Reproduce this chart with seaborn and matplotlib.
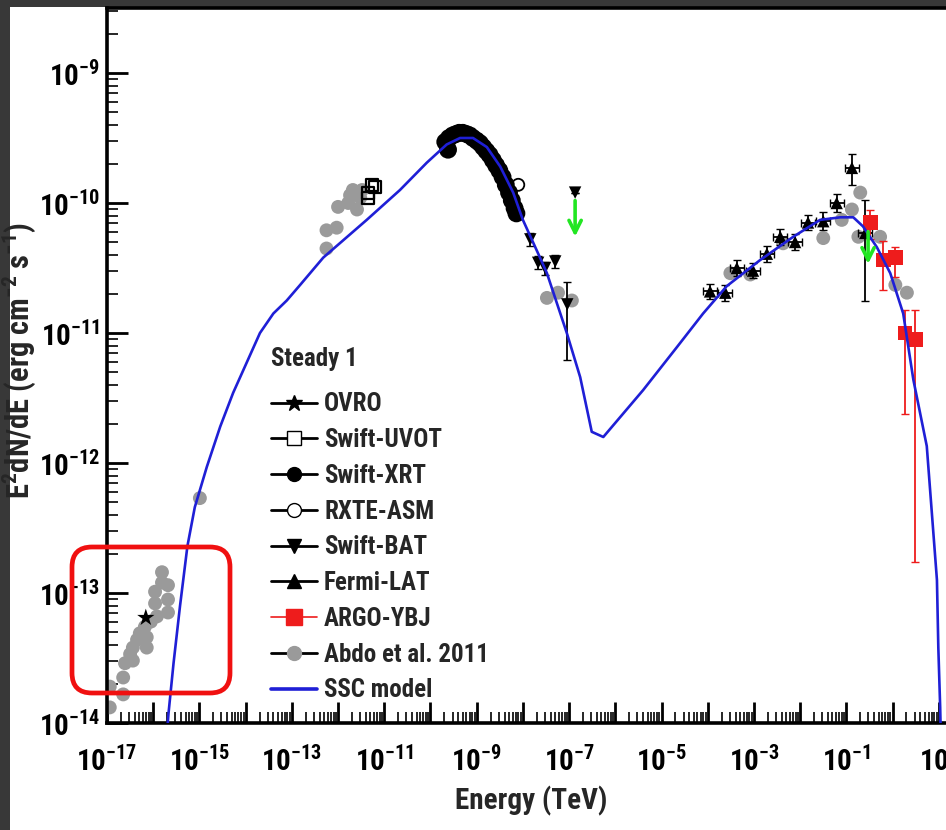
import numpy as np
import pandas as pd
import matplotlib
matplotlib.use("Agg")
import matplotlib.pyplot as plt
import seaborn as sns
from matplotlib import font_manager as fm
from matplotlib.lines import Line2D
from matplotlib.patches import Rectangle, FancyBboxPatch
from matplotlib.transforms import IdentityTransform
from matplotlib.ticker import LogLocator, FuncFormatter, NullFormatter

# ---------------- data (log10 values) ----------------
ssc_logE = [-15.75, -15.67, -15.56, -15.42, -15.26, -15.10, -14.84, -14.55, -14.27, -13.98,
            -13.69, -13.40, -13.11, -12.82, -12.32, -11.38, -10.66, -10.08, -9.65, -9.36,
            -9.08, -8.78, -8.49, -8.21, -8.00, -7.63, -7.48, -7.05, -6.76, -6.51,
            -6.26, -5.40, -4.67, -4.10, -3.59, -2.87, -2.15, -1.57, -1.13, -0.85,
            -0.64, -0.34, -0.05, 0.23, 0.45, 0.74, 0.96, 0.99, 1.03, 1.05]
ssc_logF = [-14.30, -13.93, -13.54, -13.10, -12.64, -12.34, -12.03, -11.72, -11.46, -11.23,
            -11.00, -10.85, -10.75, -10.63, -10.42, -10.13, -9.90, -9.69, -9.55, -9.50,
            -9.50, -9.57, -9.72, -9.92, -10.13, -10.42, -10.54, -11.00, -11.34, -11.76,
            -11.80, -11.44, -11.11, -10.85, -10.64, -10.44, -10.26, -10.13, -10.11, -10.11,
            -10.18, -10.34, -10.54, -10.85, -11.36, -11.87, -12.90, -13.42, -13.88, -14.20]

abdo_logE = [-16.94, -16.94, -16.65, -16.65, -16.61, -16.44, -16.44, -16.35, -16.29, -16.14,
             -16.14, -16.18, -15.96, -15.92, -15.96, -15.81, -15.81, -15.68, -15.68, -15.68,
             -16.50, -16.05,
             -14.99,
             -12.25, -12.25, -12.03, -12.00, -11.78, -11.74, -11.68, -11.59, -11.52, -11.48,
             -7.48, -7.24, -6.94,
             -3.51, -3.08, -2.37, -1.50, -1.10, -0.70, -0.88, -0.74, -0.27, 0.06, 0.31]
abdo_logF = [-13.88, -13.72, -13.78, -13.65, -13.54, -13.52, -13.42, -13.36, -13.31, -13.42,
             -13.34, -13.26, -13.08, -13.18, -12.99, -12.92, -12.84, -12.94, -13.05, -13.15,
             -13.47, -13.22,
             -12.27,
             -10.35, -10.21, -10.19, -10.03, -10.00, -9.94, -9.90, -10.05, -9.96, -9.90,
             -10.73, -10.69, -10.75,
             -10.54, -10.55, -10.31, -10.27, -10.13, -9.92, -10.05, -10.26, -10.26, -10.63, -10.69]

ovro_logE = [-16.16]
ovro_logF = [-13.19]

uvot_logE = [-11.35, -11.26, -11.20, -11.35]
uvot_logF = [-9.92, -9.86, -9.88, -9.96]

xrt_logE = [-9.68, -9.62, -9.60, -9.52, -9.45, -9.38, -9.30, -9.22, -9.15, -9.08, -9.00,
            -8.93, -8.86, -8.79, -8.72, -8.65, -8.58, -8.51, -8.44, -8.37, -8.30, -8.24,
            -8.18, -8.14]
xrt_logF = [-9.53, -9.59, -9.50, -9.48, -9.47, -9.46, -9.46, -9.47, -9.48, -9.50, -9.52,
            -9.54, -9.57, -9.60, -9.63, -9.67, -9.71, -9.75, -9.80, -9.86, -9.92, -9.98,
            -10.04, -10.08]

asm_logE = [-8.10]
asm_logF = [-9.86]

bat_logE = [-7.84, -7.67, -7.52, -7.30, -7.04, -6.87]
bat_logF = [-10.28, -10.46, -10.50, -10.45, -10.78, -9.92]
bat_logF_lo = [-10.33, -10.51, -10.55, -10.50, -11.21, -9.92]
bat_logF_hi = [-10.23, -10.41, -10.45, -10.40, -10.61, -9.92]

lat_logE = [-3.95, -3.62, -3.37, -3.02, -2.72, -2.43, -2.11, -1.83, -1.50, -1.21, -0.88, -0.59]
lat_logF = [-10.68, -10.69, -10.50, -10.52, -10.39, -10.26, -10.30, -10.15, -10.14, -10.00, -9.73, -10.23]
lat_logF_lo = [-10.74, -10.75, -10.56, -10.58, -10.45, -10.32, -10.36, -10.21, -10.21, -10.07, -9.86, -10.75]
lat_logF_hi = [-10.62, -10.63, -10.44, -10.46, -10.33, -10.20, -10.24, -10.09, -10.07, -9.93, -9.62, -9.98]

argo_logE = [-0.48, -0.20, 0.06, 0.27, 0.49]
argo_logF = [-10.15, -10.44, -10.42, -11.00, -11.05]
argo_logF_lo = [-10.28, -10.67, -10.57, -11.62, -12.76]
argo_logF_hi = [-10.05, -10.29, -10.34, -10.82, -10.82]

# upper-limit arrows: (logE, logF tail, logF head)
ul_logE = [-6.87, -0.53]
ul_tail = [-9.96, -10.20]
ul_head = [-10.28, -10.49]

legend_labels = ["OVRO", "Swift-UVOT", "Swift-XRT", "RXTE-ASM", "Swift-BAT",
                 "Fermi-LAT", "ARGO-YBJ", "Abdo et al. 2011", "SSC model"]
legend_title = "Steady 1"


def lin(a):
    return np.power(10.0, np.asarray(a, dtype=float))


def df(le, lf):
    return pd.DataFrame({"E": lin(le), "F": lin(lf)})


# ---------------- fonts: prefer a narrow sans (Arial Narrow look) ----------------
sns.set_style("ticks")
ttf = fm.fontManager.ttflist
names = {f.name for f in ttf}
font_name, font_stretch, narrow = "Liberation Sans", "normal", False
for cand in ["Liberation Sans Narrow", "Arial Narrow", "Roboto Condensed",
             "Open Sans Condensed", "Noto Sans Condensed", "DejaVu Sans Condensed"]:
    if cand in names:
        font_name, narrow = cand, True
        break
if not narrow:
    for fam in ["Roboto", "Open Sans", "Noto Sans", "DejaVu Sans"]:
        st = [f.stretch for f in ttf if f.name == fam and str(f.stretch) in
              ("condensed", "semi-condensed", "extra-condensed")]
        if st:
            font_name, font_stretch, narrow = fam, st[0], True
            break

plt.rcParams["font.family"] = [font_name, "Liberation Sans", "DejaVu Sans"]
plt.rcParams["font.stretch"] = font_stretch
plt.rcParams["font.weight"] = "bold"
plt.rcParams["mathtext.fontset"] = "custom"
spec = "%s:weight=bold:stretch=%s" % (font_name, font_stretch)
plt.rcParams["mathtext.rm"] = spec
plt.rcParams["mathtext.bf"] = spec
plt.rcParams["mathtext.it"] = spec
plt.rcParams["mathtext.default"] = "bf"

if narrow:
    TICK_FS, LAB_FS, YLAB_FS, LEG_FS = 21, 21, 22, 18
else:
    TICK_FS, LAB_FS, YLAB_FS, LEG_FS = 17.5, 17.5, 18, 16

fig = plt.figure(figsize=(9.46, 8.30), dpi=100, facecolor="#383838")
fig.add_artist(Rectangle((10 / 946, 0), 1, (830 - 7) / 830, transform=fig.transFigure,
                         facecolor="white", edgecolor="none", zorder=-5))
ax = fig.add_axes([107 / 946, 107 / 830, 878 / 946, (723 - 8) / 830])
ax.set_facecolor("white")
ax.set_xscale("log")
ax.set_yscale("log")

GRAY = "#9a9a9a"
BLUE = "#1f1fd6"
RED = "#ee1c1c"
GREEN = "#22e622"

# Abdo et al. gray points
sns.scatterplot(data=df(abdo_logE, abdo_logF), x="E", y="F", ax=ax, color=GRAY,
                s=100, edgecolor="none", zorder=2, legend=False)

# SSC model
sns.lineplot(data=df(ssc_logE, ssc_logF), x="E", y="F", ax=ax, color=BLUE, lw=1.9,
             sort=False, estimator=None, zorder=6, legend=False)

# OVRO
sns.scatterplot(data=df(ovro_logE, ovro_logF), x="E", y="F", ax=ax, color="black",
                marker="*", s=170, edgecolor="none", zorder=5, legend=False)
# Swift-UVOT
sns.scatterplot(data=df(uvot_logE, uvot_logF), x="E", y="F", ax=ax, marker="s",
                s=75, facecolor="none", edgecolor="black", linewidth=1.6, zorder=5, legend=False)
# Swift-XRT
sns.scatterplot(data=df(xrt_logE, xrt_logF), x="E", y="F", ax=ax, color="black",
                s=165, edgecolor="none", zorder=5, legend=False)
# RXTE-ASM
sns.scatterplot(data=df(asm_logE, asm_logF), x="E", y="F", ax=ax, marker="o",
                s=75, facecolor="none", edgecolor="black", linewidth=1.3, zorder=5, legend=False)
# Swift-BAT
bF = lin(bat_logF)
ax.errorbar(lin(bat_logE), bF, yerr=[bF - lin(bat_logF_lo), lin(bat_logF_hi) - bF],
            fmt="none", ecolor="black", elinewidth=1.3, capsize=3, zorder=4)
sns.scatterplot(data=df(bat_logE, bat_logF), x="E", y="F", ax=ax, color="black",
                marker="v", s=80, edgecolor="none", zorder=5, legend=False)
# Fermi-LAT
lE = lin(lat_logE)
lF = lin(lat_logF)
ax.errorbar(lE, lF, yerr=[lF - lin(lat_logF_lo), lin(lat_logF_hi) - lF],
            xerr=[lE - lE / 10 ** 0.15, lE * 10 ** 0.15 - lE],
            fmt="none", ecolor="black", elinewidth=1.3, capsize=3, zorder=4)
sns.scatterplot(data=df(lat_logE, lat_logF), x="E", y="F", ax=ax, color="black",
                marker="^", s=80, edgecolor="none", zorder=5, legend=False)
# ARGO-YBJ
aE = lin(argo_logE)
aF = lin(argo_logF)
ax.errorbar(aE, aF, yerr=[aF - lin(argo_logF_lo), lin(argo_logF_hi) - aF],
            fmt="none", ecolor=RED, elinewidth=1.3, capsize=3, zorder=4)
sns.scatterplot(data=df(argo_logE, argo_logF), x="E", y="F", ax=ax, color=RED,
                marker="s", s=110, edgecolor="none", zorder=5, legend=False)

# upper-limit arrows
for e, t, h in zip(ul_logE, ul_tail, ul_head):
    ax.annotate("", xy=(10 ** e, 10 ** h), xytext=(10 ** e, 10 ** t),
                arrowprops=dict(arrowstyle="->", color=GREEN, lw=2.6, mutation_scale=22),
                zorder=7)

ax.set_xlim(1e-17, 1e2)
ax.set_ylim(1e-14, 10 ** -8.5)


def fmt_x(v, pos):
    e = int(round(np.log10(v)))
    if e % 2 == 0:
        return ""
    return r"$\mathbf{10^{%d}}$" % e


def fmt_y(v, pos):
    e = int(round(np.log10(v)))
    return r"$\mathbf{10^{%d}}$" % e


ax.xaxis.set_major_locator(LogLocator(base=10, numticks=60))
ax.xaxis.set_minor_locator(LogLocator(base=10, subs=np.arange(2, 10), numticks=400))
ax.yaxis.set_major_locator(LogLocator(base=10, numticks=30))
ax.yaxis.set_minor_locator(LogLocator(base=10, subs=np.arange(2, 10), numticks=300))
ax.xaxis.set_major_formatter(FuncFormatter(fmt_x))
ax.yaxis.set_major_formatter(FuncFormatter(fmt_y))
ax.xaxis.set_minor_formatter(NullFormatter())
ax.yaxis.set_minor_formatter(NullFormatter())
ax.tick_params(which="major", direction="in", length=15, width=2.0, labelsize=TICK_FS,
               colors="black", pad=7, top=False, right=False)
ax.tick_params(axis="x", which="major", pad=17)
ax.tick_params(axis="y", which="major", pad=5)
ax.tick_params(which="minor", direction="in", length=8, width=1.4, top=False, right=False)
for sp in ax.spines.values():
    sp.set_linewidth(2.6)
    sp.set_color("black")

ax.set_xlabel("Energy (TeV)", fontsize=LAB_FS, fontweight="bold")
ax.xaxis.set_label_coords((531 - 107) / 878, -0.088)
ax.set_ylabel(r"E$^{\mathbf{2}}$dN/dE (erg cm$^{\mathbf{-2}}$ s$^{\mathbf{-1}}$)",
              fontsize=YLAB_FS, fontweight="bold")
ax.yaxis.set_label_coords((38 - 107) / 878, 0.507)

# legend
handles = [
    Line2D([], [], color="black", lw=2, marker="*", markersize=12, markerfacecolor="black", markeredgecolor="black"),
    Line2D([], [], color="black", lw=2, marker="s", markersize=10, markerfacecolor="white", markeredgecolor="black"),
    Line2D([], [], color="black", lw=2, marker="o", markersize=10, markerfacecolor="black", markeredgecolor="black"),
    Line2D([], [], color="black", lw=2, marker="o", markersize=10, markerfacecolor="white", markeredgecolor="black"),
    Line2D([], [], color="black", lw=2, marker="v", markersize=10, markerfacecolor="black", markeredgecolor="black"),
    Line2D([], [], color="black", lw=2, marker="^", markersize=10, markerfacecolor="black", markeredgecolor="black"),
    Line2D([], [], color=RED, lw=1.2, marker="s", markersize=11, markerfacecolor=RED, markeredgecolor=RED),
    Line2D([], [], color="black", lw=2, marker="o", markersize=10, markerfacecolor=GRAY, markeredgecolor=GRAY),
    Line2D([], [], color=BLUE, lw=2.6),
]
leg = ax.legend(handles, legend_labels, title=legend_title, loc="upper left",
                bbox_to_anchor=(271 / 946, (830 - 347) / 830), bbox_transform=fig.transFigure,
                frameon=False, fontsize=LEG_FS, title_fontsize=LEG_FS,
                handlelength=46 / (LEG_FS / 0.72), handletextpad=7 / (LEG_FS / 0.72),
                labelspacing=(36 - LEG_FS / 0.72 * 1.0) / (LEG_FS / 0.72) + 0.03,
                borderpad=0, borderaxespad=0, alignment="left")
for t in leg.get_texts():
    t.set_fontweight("bold")
leg.get_title().set_fontweight("bold")
leg._legend_box.sep = leg._legend_box.sep + 7
leg.set_zorder(10)

# red highlight box (annotation)
fig.add_artist(FancyBboxPatch((72, 830 - 693), 158, 146,
                              boxstyle="round,pad=0,rounding_size=20",
                              transform=IdentityTransform(), facecolor="none",
                              edgecolor="#f01010", linewidth=3.4, zorder=20))

fig.savefig("out.png", dpi=100, facecolor=fig.get_facecolor())
